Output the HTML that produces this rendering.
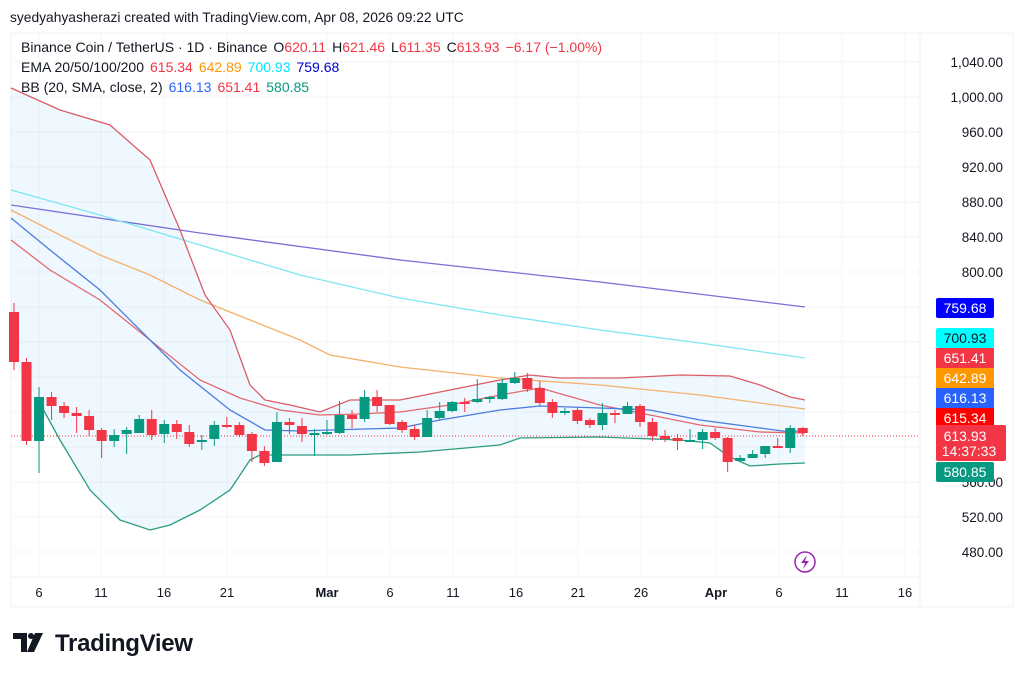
<!DOCTYPE html>
<html><head><meta charset="utf-8"><style>
body{margin:0;background:#fff;width:1024px;height:677px;overflow:hidden;font-family:"Liberation Sans","DejaVu Sans",sans-serif}
svg text{font-family:"Liberation Sans","DejaVu Sans",sans-serif}
</style></head><body>
<svg id="s" width="1024" height="677" viewBox="0 0 1024 677" xmlns="http://www.w3.org/2000/svg">
<rect width="1024" height="677" fill="#fff"/>
<text x="10" y="22" font-size="13.8" fill="#131722">syedyahyasherazi created with TradingView.com, Apr 08, 2026 09:22 UTC</text>
<rect x="11" y="33" width="1002" height="574" fill="none" stroke="#eef0f3"/>
<line x1="920" y1="33" x2="920" y2="607" stroke="#eef0f3"/>
<line x1="11" y1="577" x2="920" y2="577" stroke="#eef0f3"/>
<g stroke="#f4f5f7" stroke-width="1">
<line x1="11" y1="62" x2="920" y2="62"/><line x1="11" y1="97" x2="920" y2="97"/><line x1="11" y1="132" x2="920" y2="132"/><line x1="11" y1="167" x2="920" y2="167"/><line x1="11" y1="202" x2="920" y2="202"/><line x1="11" y1="237" x2="920" y2="237"/><line x1="11" y1="272" x2="920" y2="272"/><line x1="11" y1="307" x2="920" y2="307"/><line x1="11" y1="342" x2="920" y2="342"/><line x1="11" y1="377" x2="920" y2="377"/><line x1="11" y1="412" x2="920" y2="412"/><line x1="11" y1="447" x2="920" y2="447"/><line x1="11" y1="482" x2="920" y2="482"/><line x1="11" y1="517" x2="920" y2="517"/><line x1="11" y1="552" x2="920" y2="552"/>
<line x1="39" y1="33" x2="39" y2="577"/><line x1="101" y1="33" x2="101" y2="577"/><line x1="164" y1="33" x2="164" y2="577"/><line x1="227" y1="33" x2="227" y2="577"/><line x1="327" y1="33" x2="327" y2="577"/><line x1="390" y1="33" x2="390" y2="577"/><line x1="453" y1="33" x2="453" y2="577"/><line x1="516" y1="33" x2="516" y2="577"/><line x1="578" y1="33" x2="578" y2="577"/><line x1="641" y1="33" x2="641" y2="577"/><line x1="716" y1="33" x2="716" y2="577"/><line x1="779" y1="33" x2="779" y2="577"/><line x1="842" y1="33" x2="842" y2="577"/><line x1="905" y1="33" x2="905" y2="577"/>
</g>
<path d="M11,88 L60,110 L110,125 L150,160 L180,230 L205,295 L230,330 L250,385 L265,400 L290,405 L320,412 L350,400 L400,400 L450,390 L500,380 L530,375 L560,378 L620,378 L680,375 L730,376 L760,385 L790,397 L805,400 L805,463 L780,464 L750,466 L730,457 L710,443 L680,440 L600,437 L520,438 L500,445 L420,452 L350,455 L300,455 L260,455 L250,460 L230,490 L200,510 L170,525 L150,530 L120,520 L90,490 L60,440 L38,400 L11,360 Z" fill="#2196f3" fill-opacity="0.07"/>
<polyline fill="none" stroke="#7b6fd6" stroke-width="1.3" points="11,205 200,233 400,260 600,282 805,307"/>
<polyline fill="none" stroke="#7ee6f0" stroke-width="1.3" points="11,190 100,215 200,245 300,275 400,298 500,315 600,330 700,343 805,358"/>
<polyline fill="none" stroke="#f5b06a" stroke-width="1.3" points="11,210 60,235 100,255 150,275 200,300 250,320 300,340 330,355 400,367 500,378 600,385 700,395 805,409"/>
<polyline fill="none" stroke="#e5676f" stroke-width="1.3" points="11,240 50,270 100,300 150,340 200,380 240,398 280,410 320,415 360,414 400,412 450,405 500,395 540,388 600,405 650,415 700,425 760,432 805,433"/>
<polyline fill="none" stroke="#4a7be0" stroke-width="1.3" points="11,218 50,250 100,290 140,330 180,370 230,410 265,430 300,431 330,430 400,428 440,420 500,410 540,406 600,408 650,410 700,420 760,428 790,432 805,430"/>
<polyline fill="none" stroke="#dc5c64" stroke-width="1.3" points="11,88 60,110 110,125 150,160 180,230 205,295 230,330 250,385 265,400 290,405 320,412 350,400 400,400 450,390 500,380 530,375 560,378 620,378 680,375 730,376 760,385 790,397 805,400"/>
<polyline fill="none" stroke="#2e9c7f" stroke-width="1.3" points="38,400 60,440 90,490 120,520 150,530 170,525 200,510 230,490 250,460 260,455 300,455 350,455 420,452 500,445 520,438 600,437 680,440 710,443 730,457 750,466 780,464 805,463"/>
<line x1="11" y1="436" x2="920" y2="436" stroke="#f23645" stroke-dasharray="1,2" stroke-width="1"/>
<g id="c"></g>
<g font-size="13" fill="#131722" text-anchor="middle">
<text x="39" y="597">6</text><text x="101" y="597">11</text><text x="164" y="597">16</text><text x="227" y="597">21</text><text x="327" y="597" font-weight="bold">Mar</text><text x="390" y="597">6</text><text x="453" y="597">11</text><text x="516" y="597">16</text><text x="578" y="597">21</text><text x="641" y="597">26</text><text x="716" y="597" font-weight="bold">Apr</text><text x="779" y="597">6</text><text x="842" y="597">11</text><text x="905" y="597">16</text>
</g>
<g font-size="13.5" fill="#131722" text-anchor="end">
<text x="1003" y="67">1,040.00</text><text x="1003" y="102">1,000.00</text><text x="1003" y="137">960.00</text><text x="1003" y="172">920.00</text><text x="1003" y="207">880.00</text><text x="1003" y="242">840.00</text><text x="1003" y="277">800.00</text><text x="1003" y="487">560.00</text><text x="1003" y="522">520.00</text><text x="1003" y="557">480.00</text>
</g>
<g font-size="14" text-anchor="middle">
<rect x="936" y="298" width="58" height="20" rx="2" fill="#0000ff"/><text x="965" y="313" fill="#fff">759.68</text>
<rect x="936" y="328" width="58" height="20" rx="2" fill="#00ffff"/><text x="965" y="343" fill="#131722">700.93</text>
<rect x="936" y="348" width="58" height="20" fill="#f23645"/><text x="965" y="363" fill="#fff">651.41</text>
<rect x="936" y="368" width="58" height="20" fill="#ff9800"/><text x="965" y="383" fill="#fff">642.89</text>
<rect x="936" y="388" width="58" height="20" fill="#2962ff"/><text x="965" y="403" fill="#fff">616.13</text>
<rect x="936" y="408" width="58" height="20" fill="#ff0000"/><text x="965" y="423" fill="#fff">615.34</text>
<rect x="936" y="425" width="70" height="36" rx="2" fill="#f23645"/><text x="965" y="441" fill="#fff">613.93</text><text x="969" y="456" fill="#fff">14:37:33</text>
<rect x="936" y="462" width="58" height="20" rx="2" fill="#089981"/><text x="965" y="477" fill="#fff">580.85</text>
</g>
<g font-size="14">
<text x="21" y="52" fill="#131722">Binance Coin / TetherUS · 1D · Binance<tspan dx="6">O</tspan><tspan fill="#f23645">620.11</tspan><tspan dx="6">H</tspan><tspan fill="#f23645">621.46</tspan><tspan dx="6">L</tspan><tspan fill="#f23645">611.35</tspan><tspan dx="6">C</tspan><tspan fill="#f23645">613.93</tspan><tspan dx="6" fill="#f23645">−6.17 (−1.00%)</tspan></text>
<text x="21" y="72" fill="#131722">EMA 20/50/100/200<tspan dx="6" fill="#f23645">615.34</tspan><tspan dx="6" fill="#ff9800">642.89</tspan><tspan dx="6" fill="#00e5ff">700.93</tspan><tspan dx="6" fill="#0000cc">759.68</tspan></text>
<text x="21" y="92" fill="#131722">BB (20, SMA, close, 2)<tspan dx="6" fill="#2962ff">616.13</tspan><tspan dx="6" fill="#f23645">651.41</tspan><tspan dx="6" fill="#089981">580.85</tspan></text>
</g>
<circle cx="805" cy="562" r="10" fill="none" stroke="#9c27b0" stroke-width="1.5"/>
<path d="M807,555 L801,563 L805,563 L803,569 L809,561 L805,561 Z" fill="#9c27b0"/>
<g fill="#131722">
<path d="M13,633 L27,633 L27,652 L21,652 L21,639 L13,639 Z"/><circle cx="31" cy="636" r="3"/><path d="M35,633 L43,633 L34,652 L27,652 Z"/>
</g>
<text x="55" y="651" font-size="24" font-weight="bold" fill="#131722" letter-spacing="-0.3">TradingView</text>
</svg>
<script>
var d=[
[312,362,303,370],[362,441,358,445],[441,397,387,473],[397,406,392,420],[406,413,402,418],[413,416,407,433],[416,430,410,436],[430,441,428,458],[441,435,429,447],[434,430,427,454],[433,419,415,433],[419,435,410,440],[434,424,420,443],[424,432,420,439],[432,444,425,447],[442,440,435,450],[439,425,421,446],[425,426,417,428],[425,435,422,437],[434,451,432,462],[451,463,446,466],[462,422,412,462],[422,425,418,434],[426,434,418,442],[434,433,429,456],[433,432,420,435],[433,415,401,434],[415,419,410,428],[419,397,390,422],[397,406,390,412],[405,424,405,425],[422,430,420,433],[429,437,425,440],[437,418,410,437],[418,411,402,420],[411,402,401,412],[402,402,398,412],[402,399,379,403],[398,397,396,403],[399,383,379,400],[383,378,372,384],[378,389,373,392],[388,403,381,406],[402,413,399,418],[413,411,408,415],[410,421,407,424],[420,425,418,428],[425,413,403,430],[413,414,410,423],[414,406,402,414],[406,422,404,427],[422,436,418,441],[436,439,430,442],[438,441,434,450],[441,440,429,442],[440,432,429,449],[432,438,428,440],[438,462,437,472],[461,458,455,462],[458,454,450,458],[454,446,446,458],[446,447,438,448],[448,428,425,453],[428,433,427,436]];
var g=document.getElementById('c'),s='';
for(var i=0;i<d.length;i++){var x=14+i*12.52,o=d[i][0],c=d[i][1];var col=c<o?'#089981':'#f23645';var t=Math.min(o,c),h=Math.max(Math.abs(o-c),2);
s+='<line x1="'+x+'" x2="'+x+'" y1="'+d[i][2]+'" y2="'+d[i][3]+'" stroke="'+col+'"/><rect x="'+(x-5)+'" y="'+t+'" width="10" height="'+h+'" fill="'+col+'"/>';}
g.innerHTML=s;
</script>
</body></html>
